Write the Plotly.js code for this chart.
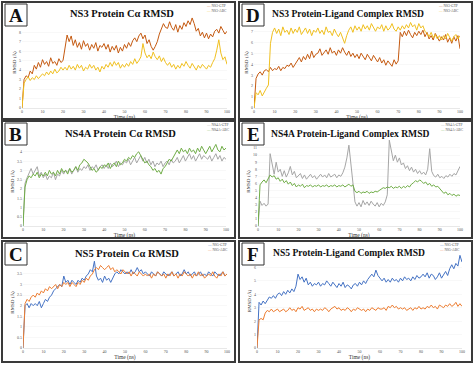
<!DOCTYPE html>
<html><head><meta charset="utf-8">
<script src="https://cdn.plot.ly/plotly-3.0.1.min.js"></script>
<style>html,body{margin:0;padding:0;background:#fff}#chart{width:474px;height:366px}</style>
</head><body><div id="chart"></div>
<script>
// ---------- DATA ----------
const time = [0,1,2,3,4,5,6,7,8,9,10,11,12,13,14,15,16,17,18,19,20,21,22,23,24,25,26,27,28,29,30,31,32,33,34,35,36,37,38,39,40,41,42,43,44,45,46,47,48,49,50,51,52,53,54,55,56,57,58,59,60,61,62,63,64,65,66,67,68,69,70,71,72,73,74,75,76,77,78,79,80,81,82,83,84,85,86,87,88,89,90,91,92,93,94,95,96,97,98,99,100];
const xTicks = [0,10,20,30,40,50,60,70,80,90,100];

const panelTitles = ["NS3 Protein C\u03b1 RMSD","NS3 Protein-Ligand Complex RMSD","NS4A Protein C\u03b1 RMSD","NS4A Protein-Ligand Complex RMSD","NS5 Protein C\u03b1 RMSD","NS5 Protein-Ligand Complex RMSD"];
const panelLetters = ["A","D","B","E","C","F"];
const seriesNames = [["NS3-GTP","NS3-ABC"],["NS3-GTP","NS3-ABC"],["NS4A-GTP","NS4A-ABC"],["NS4A-GTP","NS4A-ABC"],["NS5-GTP","NS5-ABC"],["NS5-GTP","NS5-ABC"]];

const yTicksA = [0,1,2,3,4,5,6,7,8];
const yTicksD = [0,1,2,3,4,5,6,7];
const yTicksB = [0,0.5,1,1.5,2,2.5,3,3.5,4];
const yTicksE = [0,1,2,3,4,5,6,7,8,9,10,11];
const yTicksC = [0,0.5,1,1.5,2,2.5,3,3.5];
const yTicksF = [0,1,2,3,4,5,6];

// A: NS3 protein C-alpha RMSD
const ns3ProtGTP = [0,3.0,3.4,3.2,3.9,3.6,4.5,4.1,4.8,4.3,5.1,4.6,4.9,4.4,5.3,4.7,4.9,4.5,5.2,4.8,5.0,6.5,7.7,7.0,7.6,6.6,7.2,6.4,6.9,6.2,7.1,6.5,6.8,6.1,6.7,6.3,6.9,6.0,6.6,6.4,6.8,6.2,6.7,5.9,6.5,6.1,6.6,5.8,6.4,6.0,6.7,6.3,6.9,6.5,7.1,7.4,7.0,7.6,7.9,7.3,7.7,6.8,7.2,6.5,6.1,6.5,7.0,7.8,8.3,8.9,8.5,8.4,9.1,8.5,8.2,8.8,8.0,8.7,8.3,9.0,8.6,9.2,8.8,9.5,8.9,8.1,8.4,7.6,8.0,7.4,7.9,7.3,7.8,7.5,8.1,8.3,7.9,8.6,8.2,7.8,8.1];
const ns3ProtABC = [0,2.6,3.0,3.3,2.9,3.2,3.0,3.4,3.1,3.3,3.6,3.4,3.8,3.5,3.9,3.6,4.1,3.7,3.9,4.3,4.0,4.3,4.0,4.5,4.1,4.4,4.0,4.6,4.2,4.5,3.9,4.3,4.1,4.6,4.2,4.5,4.0,4.3,3.8,4.4,4.1,4.6,4.3,4.8,4.4,4.9,4.5,4.8,4.2,4.6,4.3,4.7,4.4,4.9,4.6,5.2,4.7,5.0,5.4,6.8,5.8,5.3,5.6,5.2,5.9,5.4,5.1,5.5,4.9,5.3,4.8,4.5,4.8,4.3,4.6,4.1,4.5,4.2,4.7,4.4,4.9,4.5,4.2,4.7,4.3,4.0,4.5,4.2,4.6,4.3,4.1,4.5,4.3,4.8,5.2,6.1,7.2,5.8,5.1,5.4,4.6];
// D: NS3 protein-ligand complex RMSD
const ns3CplxGTP = [0,2.7,3.1,3.3,3.0,3.4,3.5,3.3,3.7,3.4,3.6,3.5,3.8,3.4,3.7,3.6,3.9,3.8,4.1,3.7,4.0,4.3,4.6,4.2,4.7,4.4,4.9,4.5,5.2,4.6,4.9,5.0,5.4,4.8,5.1,5.3,4.9,5.5,5.0,5.2,4.8,5.3,5.0,5.5,5.1,4.8,5.2,4.7,5.0,4.6,4.9,4.5,5.0,4.7,4.4,4.9,4.6,4.3,4.8,4.5,4.2,4.6,4.1,4.4,3.9,4.3,4.0,3.8,4.4,4.0,4.3,6.9,6.5,7.0,6.6,7.1,6.7,6.4,6.9,6.6,7.0,6.7,7.1,6.5,6.9,6.3,6.6,6.2,6.8,6.4,6.1,6.5,6.2,6.7,6.0,6.4,5.9,6.5,6.1,6.6,5.4];
const ns3CplxABC = [0,1.4,1.2,1.6,1.1,1.5,1.8,2.1,5.9,6.9,7.3,6.8,7.2,6.6,7.4,6.9,7.1,6.7,7.3,6.8,7.2,6.9,7.4,6.7,7.0,7.3,6.8,7.2,6.6,7.1,6.9,7.3,6.8,7.1,6.7,7.4,6.9,7.0,6.6,7.2,6.8,6.5,6.9,6.3,5.9,6.6,7.1,7.4,6.9,7.5,7.1,7.4,7.0,7.6,7.2,7.5,7.1,7.7,7.3,7.0,7.4,7.2,7.6,7.0,7.5,7.1,7.3,7.7,7.2,7.0,7.4,7.1,7.5,7.2,7.6,7.3,7.8,7.4,7.6,7.1,7.7,7.3,7.5,7.0,6.8,6.5,6.9,6.4,6.7,6.3,6.6,6.2,6.6,6.3,6.8,6.4,6.1,6.5,6.7,6.3,6.6];
// B: NS4A protein C-alpha RMSD
const ns4aProtGTP = [0,2.3,2.6,2.9,3.1,2.8,3.0,3.2,2.7,2.9,2.6,2.8,2.5,2.7,2.6,2.9,2.5,2.8,2.7,3.0,2.8,3.0,2.9,3.1,2.8,3.0,3.2,2.9,3.1,3.0,3.2,3.1,3.3,3.0,3.2,3.1,3.3,3.0,3.2,3.3,3.1,3.3,3.1,3.4,3.2,3.3,3.5,3.2,3.4,3.3,3.5,3.4,3.6,3.3,3.5,3.7,3.4,3.6,3.8,3.5,3.7,3.4,3.6,3.3,3.5,3.2,3.4,3.3,3.5,3.2,3.4,3.5,3.3,3.6,3.4,3.5,3.7,3.4,3.6,3.8,3.5,3.7,3.9,3.6,3.8,3.5,3.7,3.9,3.6,3.8,3.7,3.6,3.8,3.5,3.7,3.9,3.6,3.8,3.5,3.7,3.6];
const ns4aProtABC = [0,2.1,2.5,2.7,2.6,2.8,2.7,2.9,2.6,2.8,2.7,2.9,2.7,3.0,2.8,2.9,2.7,3.0,2.8,3.1,2.9,3.0,2.8,3.1,2.9,3.0,3.2,3.0,3.3,3.4,3.6,3.5,3.4,3.2,3.0,3.1,2.9,3.0,3.2,3.1,3.3,3.2,3.4,3.1,3.3,3.4,3.2,3.5,3.3,3.4,3.6,3.5,3.7,3.6,3.8,3.7,3.9,4.0,3.8,3.6,3.4,3.5,3.3,3.2,3.0,3.1,2.9,3.0,2.8,3.1,3.2,3.4,3.6,3.5,3.7,3.9,4.1,3.9,4.2,4.0,4.1,3.9,4.2,4.0,4.1,3.9,4.2,4.0,4.3,4.1,3.9,4.1,4.3,4.0,4.2,4.4,4.1,4.0,4.3,4.1,4.2];
// E: NS4A protein-ligand complex RMSD
const ns4aCplxGTP = [0,3.5,2.9,3.2,2.8,3.1,10.2,8.5,7.3,9.0,7.6,8.0,7.0,7.8,6.9,7.5,8.4,7.2,7.7,6.8,7.1,7.4,6.7,7.2,6.6,7.0,7.3,6.8,7.1,6.6,7.0,7.3,6.9,7.2,6.8,7.4,6.9,7.1,7.3,6.8,7.2,7.0,7.5,8.3,9.6,11.4,9.0,6.5,3.4,2.8,3.3,2.7,3.6,3.0,3.4,2.9,3.5,3.1,2.8,3.3,2.7,3.2,2.9,3.4,4.4,12.1,10.4,9.2,10.0,9.0,9.6,8.6,8.9,8.1,8.5,7.8,8.3,7.6,8.0,7.4,7.8,7.3,7.6,7.2,8.0,10.9,7.7,7.1,6.9,7.3,6.8,7.0,6.7,7.1,6.9,7.3,7.0,7.4,7.2,7.9,8.4];
const ns4aCplxABC = [0,5.8,6.2,6.5,6.1,6.7,7.2,6.9,7.1,6.6,6.8,6.3,6.6,6.1,6.4,5.9,6.2,5.7,6.0,5.5,5.8,5.6,5.9,5.4,5.7,5.6,5.8,5.5,5.7,5.6,5.8,5.5,5.7,5.6,5.8,5.5,5.7,5.6,5.8,5.5,5.7,5.6,5.8,5.5,5.7,5.9,5.6,5.8,4.9,4.7,4.9,4.6,4.8,4.7,4.9,4.6,4.8,4.7,4.9,4.8,5.0,5.2,5.4,5.3,5.5,5.4,5.6,5.3,5.5,5.4,5.6,5.3,5.6,5.4,5.7,5.5,5.9,6.1,6.4,6.2,6.5,6.3,6.0,6.2,5.8,6.0,5.6,5.8,5.5,5.6,5.3,4.9,4.6,4.8,4.4,4.6,4.3,4.5,4.2,4.4,4.3];
// C: NS5 protein C-alpha RMSD
const ns5ProtGTP = [0,2.0,2.1,1.9,2.1,2.0,2.1,2.0,2.2,1.9,2.1,2.3,2.2,2.4,2.5,2.7,2.8,2.9,3.0,2.9,3.4,3.1,3.2,3.0,3.2,3.1,3.0,3.2,3.1,3.3,3.2,3.4,3.5,3.7,3.6,4.1,3.4,3.2,3.3,3.1,3.4,3.2,3.3,3.1,3.3,3.5,3.6,3.5,3.7,3.6,3.5,3.6,3.5,3.7,3.5,3.6,3.8,3.6,3.7,3.5,3.6,3.5,3.4,3.6,3.5,3.4,3.6,3.5,3.4,3.6,3.5,3.4,3.5,3.6,3.4,3.5,3.6,3.4,3.5,3.7,3.5,3.6,3.4,3.5,3.6,3.4,3.5,3.6,3.4,3.5,3.4,3.6,3.5,3.4,3.6,3.5,3.4,3.5,3.6,3.4,3.5];
const ns5ProtABC = [0,2.1,2.3,2.2,2.4,2.5,2.4,2.6,2.5,2.7,2.6,2.8,2.7,2.9,2.8,2.9,3.0,2.8,3.0,2.9,3.1,3.0,3.1,2.9,3.1,3.0,2.9,3.1,3.0,3.2,3.1,3.3,3.2,3.4,3.5,3.7,3.8,3.7,3.9,3.8,3.7,3.8,3.9,3.7,3.8,3.6,3.7,3.6,3.5,3.7,3.6,3.5,3.6,3.4,3.6,3.5,3.4,3.6,3.5,3.4,3.5,3.4,3.5,3.3,3.5,3.4,3.6,3.5,3.4,3.5,3.3,3.5,3.4,3.6,3.4,3.5,3.3,3.5,3.4,3.6,3.5,3.4,3.5,3.3,3.5,3.4,3.6,3.4,3.5,3.3,3.4,3.5,3.4,3.6,3.4,3.3,3.5,3.4,3.6,3.4,3.5];
// F: NS5 protein-ligand complex RMSD
const ns5CplxGTP = [0,3.4,3.2,3.5,3.3,3.6,3.8,3.7,3.9,3.7,4.0,4.1,3.9,4.2,4.0,4.3,4.1,4.4,4.2,4.6,5.5,5.1,5.3,4.9,5.2,4.7,4.9,4.6,4.8,4.7,4.9,4.6,4.8,4.7,5.0,4.8,4.6,4.9,4.7,4.5,4.8,4.6,4.9,4.5,4.7,4.6,4.4,4.7,4.8,4.6,4.9,4.7,5.0,4.8,5.1,5.3,5.5,5.3,5.8,5.4,5.2,5.0,5.2,4.9,5.1,4.9,5.2,5.0,5.1,4.9,5.2,5.0,5.3,5.1,5.2,5.0,5.3,5.1,5.4,5.2,5.3,5.5,5.3,5.6,5.2,5.5,5.4,5.1,5.3,5.6,5.2,5.5,5.7,5.4,5.9,6.2,5.9,6.3,6.1,6.9,6.4];
const ns5CplxABC = [0,2.1,2.2,2.1,2.6,2.8,2.7,2.9,2.7,2.8,2.9,2.7,2.8,2.9,2.7,2.8,3.0,2.8,2.9,2.7,3.0,2.9,3.1,2.8,2.9,3.0,2.8,2.9,2.7,2.9,2.8,2.9,2.8,3.0,2.9,2.7,2.9,3.0,3.1,2.9,3.0,2.8,2.9,2.8,3.0,2.9,2.7,2.9,2.8,3.0,2.9,2.8,2.9,2.7,2.9,2.8,3.0,2.9,2.8,3.0,2.9,2.9,3.0,2.8,3.1,3.0,3.2,3.0,3.1,2.9,3.0,2.9,3.0,2.8,2.9,3.0,2.8,3.0,2.9,3.1,2.9,3.0,2.9,3.1,3.0,3.2,3.0,3.1,2.9,3.2,3.1,3.0,3.2,3.1,3.3,3.1,3.2,3.4,3.1,3.3,3.1];

// ---------- STYLE / LAYOUT ----------
const W = 474, H = 366;
const px = p => p / W, py = p => 1 - p / H;
const colors = [["#c55a11","#f0c020"],["#c55a11","#f0c020"],["#a6a6a6","#70ad47"],["#a6a6a6","#70ad47"],["#4472c4","#ed7d31"],["#4472c4","#ed7d31"]];
const seriesData = [[ns3ProtGTP,ns3ProtABC],[ns3CplxGTP,ns3CplxABC],[ns4aProtGTP,ns4aProtABC],[ns4aCplxGTP,ns4aCplxABC],[ns5ProtGTP,ns5ProtABC],[ns5CplxGTP,ns5CplxABC]];
const yTicks = [yTicksA,yTicksD,yTicksB,yTicksE,yTicksC,yTicksF];
// plot-area geometry in pixels: [xLeft, xRight, yBottom, yTop], y range max
const geom = [[22,227,108,17,9.6],[254,460,108,17,8.3],[23,226,226,137,4.8],[258,460,226,137,12.55],[23,227,348,257,4.3],[257,462,348,254,7.0]];
const boxes = [[2,2,235,119],[239,2,472,119],[2,121,235,238],[239,121,472,238],[2,241,235,362],[239,241,472,362]];
const titlePos = [[122,13],[348,13],[120,133],[350,133],[127,253],[349,252]];
const titleSizes = [10.5,9.6,10.5,9.6,10.5,9.6];
const legendPos = [[204,8],[436,8],[204,127],[438,127],[205,247],[437,247]];

const serif = "Liberation Serif, Times New Roman, serif";
const traces = [];
const layout = {
  width: W, height: H, margin: {l:0,r:0,t:0,b:0},
  paper_bgcolor: "#fff", plot_bgcolor: "#fff", showlegend: false,
  shapes: [], annotations: []
};

for (let i = 0; i < 6; i++) {
  const n = i + 1, sfx = n === 1 ? "" : String(n);
  const g = geom[i];
  for (let s = 0; s < 2; s++) {
    traces.push({x: time, y: seriesData[i][s], type: "scatter", mode: "lines",
      name: seriesNames[i][s], xaxis: "x" + sfx, yaxis: "y" + sfx,
      line: {color: colors[i][s], width: 1}, hoverinfo: "skip"});
  }
  layout["xaxis" + sfx] = {
    domain: [px(g[0]), px(g[1])], anchor: "y" + sfx, range: [0, 100],
    tickmode: "array", tickvals: xTicks, ticks: "", showgrid: false, zeroline: false,
    showline: true, linecolor: "#d9d9d9", linewidth: 0.6, automargin: false,
    tickfont: {family: serif, size: 4, color: "#555"},
    title: {text: "Time (ns)", font: {family: serif, size: 5.5, color: "#333"}, standoff: 1}
  };
  layout["yaxis" + sfx] = {
    domain: [py(g[2]), py(g[3])], anchor: "x" + sfx, range: [0, g[4]],
    tickmode: "array", tickvals: yTicks[i], ticks: "", showgrid: true,
    gridcolor: "#f2f2f2", gridwidth: 0.5, zeroline: false, showline: false, automargin: false,
    tickfont: {family: serif, size: 4, color: "#555"},
    title: {text: "RMSD (\u00c5)", font: {family: serif, size: 5, color: "#333"}, standoff: 2}
  };
  const b = boxes[i];
  layout.shapes.push({type: "rect", xref: "paper", yref: "paper",
    x0: px(b[0]), x1: px(b[2]), y0: py(b[3]), y1: py(b[1]),
    line: {color: "#3a3a3a", width: 2}});
  const lx = b[0] + 3, ly = b[1] + 2;
  layout.shapes.push({type: "rect", xref: "paper", yref: "paper",
    x0: px(lx), x1: px(lx + 22), y0: py(ly + 22), y1: py(ly),
    line: {color: "#333", width: 1}, fillcolor: "#fff"});
  layout.annotations.push({xref: "paper", yref: "paper", x: px(lx + 11), y: py(ly + 11.5),
    text: "<b>" + panelLetters[i] + "</b>", showarrow: false, xanchor: "center", yanchor: "middle",
    font: {family: serif, size: 19, color: "#111"}});
  layout.annotations.push({xref: "paper", yref: "paper", x: px(titlePos[i][0]), y: py(titlePos[i][1]),
    text: "<b>" + panelTitles[i] + "</b>", showarrow: false, xanchor: "center", yanchor: "middle",
    font: {family: serif, size: titleSizes[i], color: "#111"}});
  const lp = legendPos[i];
  layout.annotations.push({xref: "paper", yref: "paper", x: px(lp[0]), y: py(lp[1]),
    text: '<span style="color:' + colors[i][0] + '">\u2014</span> ' + seriesNames[i][0] +
          '<br><span style="color:' + colors[i][1] + '">\u2014</span> ' + seriesNames[i][1],
    showarrow: false, xanchor: "left", yanchor: "middle", align: "left",
    font: {family: serif, size: 3.6, color: "#555"}});
}

Plotly.newPlot("chart", traces, layout, {staticPlot: true, displayModeBar: false});
</script></body></html>
